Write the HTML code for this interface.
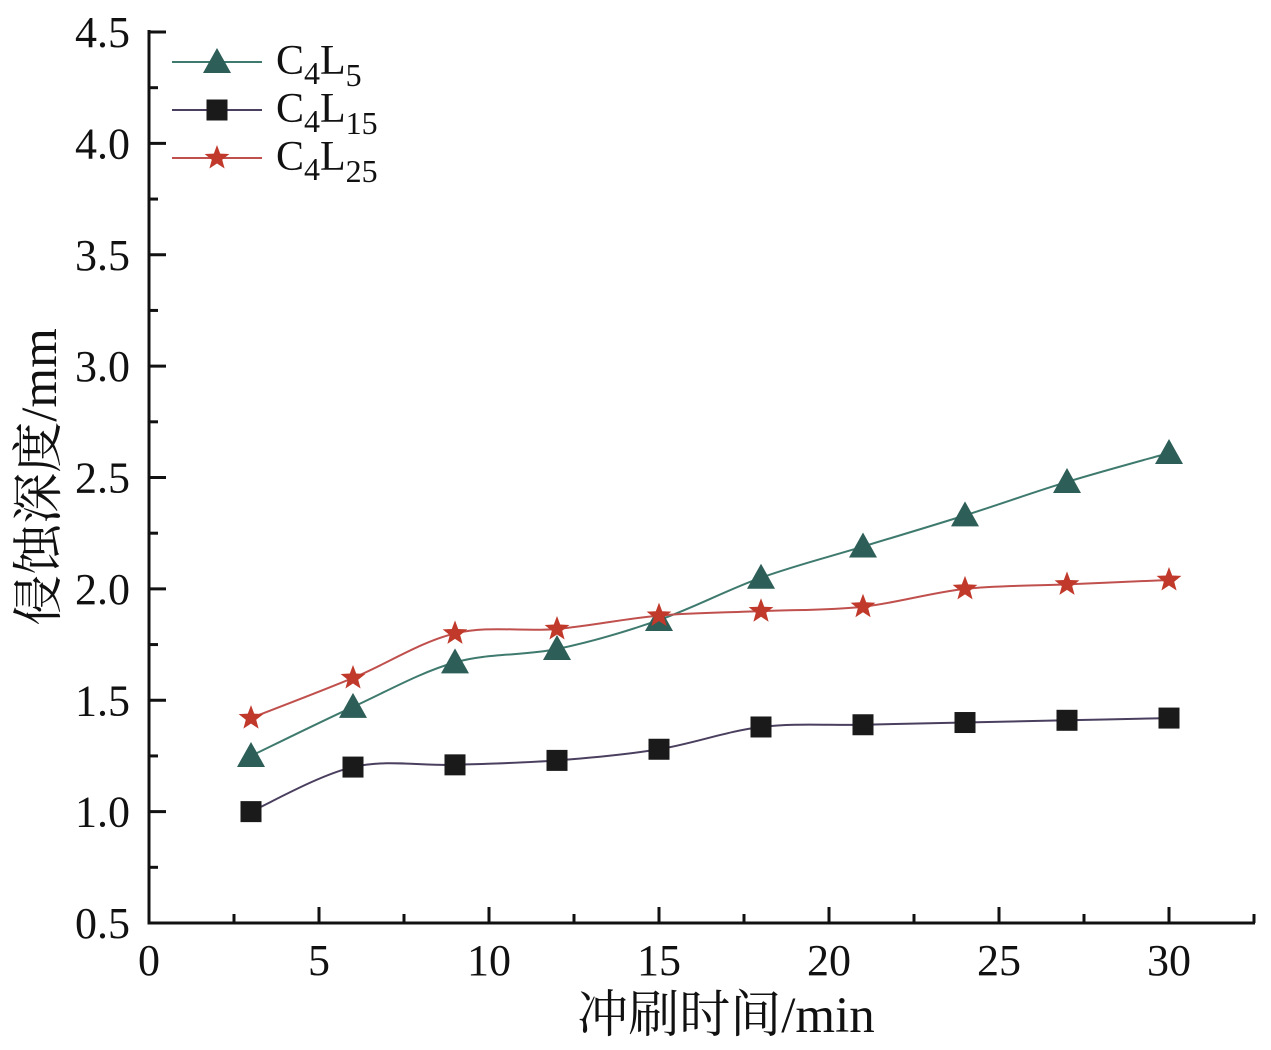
<!DOCTYPE html>
<html><head><meta charset="utf-8"><style>
html,body{margin:0;padding:0;background:#fff;}
svg{display:block;font-family:"Liberation Serif","Noto Serif CJK SC",serif;}
</style></head><body>
<svg id="chart" width="1271" height="1050">
<rect width="1271" height="1050" fill="#fff"/>
<g id="axes"></g>
<g id="series"></g>
<g id="legend"></g>
</svg>
<script>
const xValues=[3,6,9,12,15,18,21,24,27,30];
const seriesC4L5=[1.25,1.47,1.67,1.73,1.86,2.05,2.19,2.33,2.48,2.61];
const seriesC4L15=[1.00,1.20,1.21,1.23,1.28,1.38,1.39,1.40,1.41,1.42];
const seriesC4L25=[1.42,1.60,1.80,1.82,1.88,1.90,1.92,2.00,2.02,2.04];
const xTicks=[0,5,10,15,20,25,30];
const yTicks=[0.5,1.0,1.5,2.0,2.5,3.0,3.5,4.0,4.5];

const NS='http://www.w3.org/2000/svg';
const X0=149,X1=1255,Y0=923;
function sx(v){return 149+v*(1169-149)/30;}
function sy(v){return 923-(v-0.5)*(923-32)/4;}
function mk(t,a,p){const e=document.createElementNS(NS,t);for(const k in a)e.setAttribute(k,a[k]);(p||document.getElementById('axes')).appendChild(e);return e;}

let l=mk('line',{x1:X0,y1:Y0,x2:X1,y2:Y0,stroke:'#111','stroke-width':3});


l=mk('line',{x1:X0,y1:Y0+1.5,x2:X0,y2:30,stroke:'#111','stroke-width':3});


for(let v=2.5;v<=32.5;v+=2.5){const major=v%5===0;const x=sx(v);
 if(x>X1)break;
 const t=mk('line',{x1:x,y1:Y0,x2:x,y2:Y0-(major?16:9),stroke:'#111','stroke-width':3});
 
 }
xTicks.forEach(v=>{const t=mk('text',{x:sx(v),y:975,'font-size':44,'text-anchor':'middle',fill:'#111'});t.textContent=v;
 
 });
for(let v=0.5;v<=4.5;v+=0.25){const major=Math.abs(v*2-Math.round(v*2))<1e-6;const y=sy(v);
 const t=mk('line',{x1:X0,y1:y,x2:X0+(major?17:9),y2:y,stroke:'#111','stroke-width':3});
 
 }
yTicks.forEach(v=>{const t=mk('text',{x:130,y:sy(v)+15,'font-size':44,'text-anchor':'end',fill:'#111'});t.textContent=v.toFixed(1);
 
 });
let tt=mk('text',{x:726,y:1032,'font-size':51,'text-anchor':'middle',fill:'#111'});tt.textContent='冲刷时间/min';


tt=mk('text',{x:0,y:0,'font-size':51,'text-anchor':'middle',fill:'#111',transform:'translate(56,477) rotate(-90)'});tt.textContent='侵蚀深度/mm';



function smooth(pts){let d=`M${pts[0][0]},${pts[0][1]}`;
 for(let i=0;i<pts.length-1;i++){const p0=pts[i-1]||pts[i],p1=pts[i],p2=pts[i+1],p3=pts[i+2]||p2;
  d+=` C${p1[0]+(p2[0]-p0[0])/6},${p1[1]+(p2[1]-p0[1])/6} ${p2[0]-(p3[0]-p1[0])/6},${p2[1]-(p3[1]-p1[1])/6} ${p2[0]},${p2[1]}`;}
 return d;}
function marker(kind,x,y,g,color){
 if(kind==='tri')return mk('polygon',{points:`${x},${y-14} ${x-14},${y+11} ${x+14},${y+11}`,fill:color},g);
 if(kind==='sq')return mk('rect',{x:x-10.5,y:y-10.5,width:21,height:21,fill:color},g);
 let p=[];for(let i=0;i<10;i++){const r=i%2?5.5:13,a=-Math.PI/2+i*Math.PI/5;p.push((x+r*Math.cos(a)).toFixed(1)+','+(y+r*Math.sin(a)).toFixed(1));}
 return mk('polygon',{points:p.join(' '),fill:color},g);}
const defs=[
 {name:'c4l5',data:seriesC4L5,line:'#3f7a6e',mc:'#2d5e57',kind:'tri'},
 {name:'c4l15',data:seriesC4L15,line:'#4a3f5e',mc:'#1a1a1a',kind:'sq'},
 {name:'c4l25',data:seriesC4L25,line:'#c0504d',mc:'#c0392b',kind:'star'}];
const sg=document.getElementById('series');
defs.forEach(s=>{const g=mk('g',{},sg);
 
 
 const pts=s.data.map((v,i)=>[sx(xValues[i]),sy(v)]);
 const p=mk('path',{d:smooth(pts),fill:'none',stroke:s.line,'stroke-width':2},g);
 
 
 pts.forEach(q=>{const m=marker(s.kind,q[0],q[1],g,s.mc);
  
  });});

const lg=document.getElementById('legend');


const labs=['5','15','25'];
defs.forEach((s,i)=>{const y=62+i*48;const g=mk('g',{},lg);
 
 
 mk('line',{x1:172,y1:y,x2:262,y2:y,stroke:s.line,'stroke-width':2},g);
 marker(s.kind,217,y,g,s.mc);
 const t=mk('text',{x:276,y:y+12,'font-size':42,fill:'#111'},g);
 t.innerHTML=`C<tspan dy="10" font-size="32">4</tspan><tspan dy="-10">L</tspan><tspan dy="12" font-size="32">${labs[i]}</tspan>`;});
</script>
</body></html>
